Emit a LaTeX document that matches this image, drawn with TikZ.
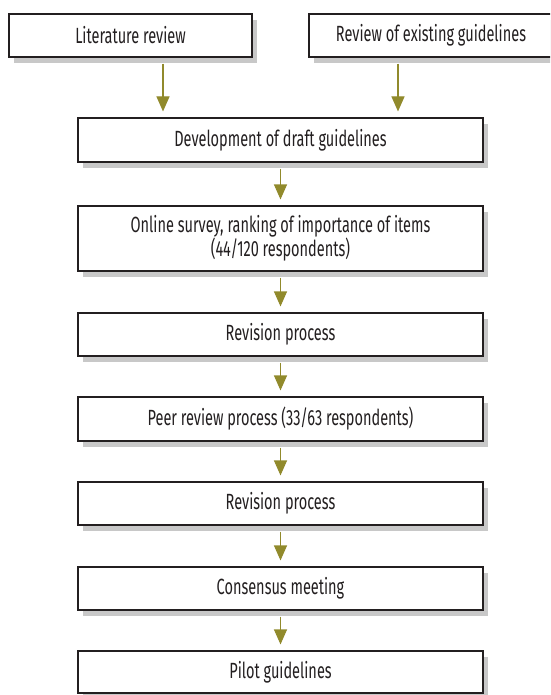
\documentclass[tikz,border=0pt]{standalone}
\usepackage{fontspec}
\setmainfont{Fira Sans}[FakeStretch=0.66]
\usetikzlibrary{arrows.meta,shadows}
\definecolor{olive}{RGB}{145,138,44}
\definecolor{shade}{RGB}{200,200,200}
\definecolor{ink}{RGB}{35,31,32}
\begin{document}
\begin{tikzpicture}[x=1pt,y=-1pt,
  stepbox/.style={draw=ink, fill=white, line width=1.1pt, text=ink,
    inner sep=0pt, align=center, font=\fontsize{22}{22}\selectfont,
    drop shadow={shadow xshift=5pt, shadow yshift=-6pt, fill=shade, opacity=1}},
  arr/.style={draw=olive, line width=1.1pt, shorten <=6pt, shorten >=6pt,
    -{Triangle[width=13pt,length=15pt,fill=olive]}}]
\useasboundingbox (0,0) rectangle (550,695);
\clip (0,0) rectangle (550,695);
\node[stepbox, minimum width=243pt, minimum height=43pt] (b1) at (130.5,35.5) {Literature review};
\node[stepbox, minimum width=244pt, minimum height=43pt] (b2) at (431,35.5) {Review of existing guidelines};
\node[stepbox, minimum width=405pt, minimum height=44pt] (b3) at (280.5,140) {Development of draft guidelines};
\node[stepbox, minimum width=405pt, minimum height=65pt] (b4) at (280.5,238.5) {Online survey, ranking of importance of items\\(44/120 respondents)};
\node[stepbox, minimum width=405pt, minimum height=43pt] (b5) at (280.5,334.5) {Revision process};
\node[stepbox, minimum width=405pt, minimum height=44pt] (b6) at (280.5,419) {Peer review process (33/63 respondents)};
\node[stepbox, minimum width=405pt, minimum height=43pt] (b7) at (280.5,503.5) {Revision process};
\node[stepbox, minimum width=405pt, minimum height=43pt] (b8) at (280.5,588.5) {Consensus meeting};
\node[stepbox, minimum width=405pt, minimum height=42pt] (b9) at (280.5,672) {Pilot guidelines};
\coordinate (x1) at (163,0);
\coordinate (x2) at (398,0);
\draw[arr] (b1.south -| x1) -- (b3.north -| x1);
\draw[arr] (b2.south -| x2) -- (b3.north -| x2);
\draw[arr] (b3) -- (b4);
\draw[arr] (b4) -- (b5);
\draw[arr] (b5) -- (b6);
\draw[arr] (b6) -- (b7);
\draw[arr] (b7) -- (b8);
\draw[arr] (b8) -- (b9);
\end{tikzpicture}
\end{document}
